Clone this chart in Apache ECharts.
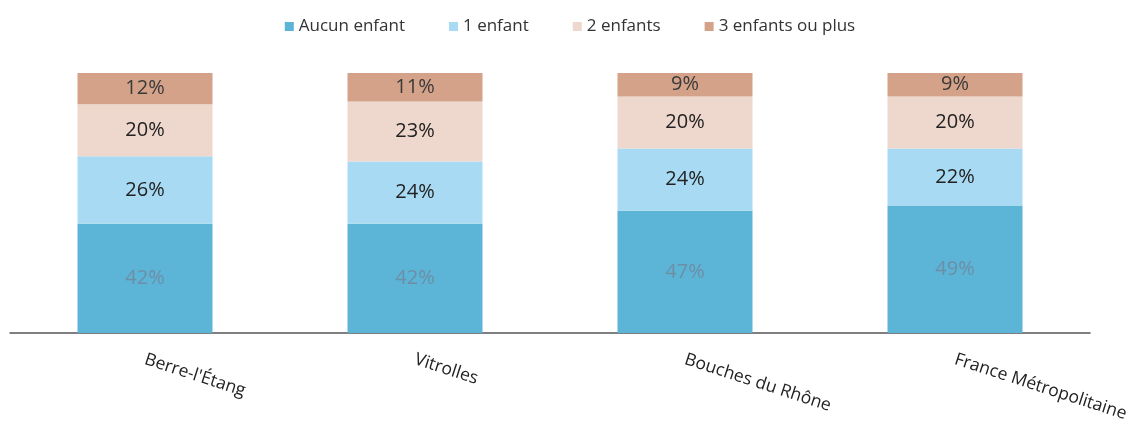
<!DOCTYPE html>
<html>
<head>
<meta charset="utf-8">
<script src="https://cdn.jsdelivr.net/npm/echarts@6/dist/echarts.min.js"></script>
<style>
  html, body { margin: 0; padding: 0; background: #fff; }
  #main { width: 1140px; height: 425px; }
</style>
</head>
<body>
<div id="main"></div>
<script>
// territoires
var categories = ["Berre-l'Étang", "Vitrolles", "Bouches du Rhône", "France Métropolitaine"];
// part des familles selon le nombre d'enfants (%)
var aucunEnfant = [42, 42, 47, 49];
var unEnfant = [26, 24, 24, 22];
var deuxEnfants = [20, 23, 20, 20];
var troisPlus = [12, 11, 9, 9];

var seriesNames = ["Aucun enfant", "1 enfant", "2 enfants", "3 enfants ou plus"];
var colors = ["#5cb4d7", "#a8dbf3", "#eed7cc", "#d4a289"];
var labelColors = ["#6d8fa6", "#222", "#222", "#3a3a3a"];

var chart = echarts.init(document.getElementById("main"));

function makeSeries(i, data) {
  return {
    name: seriesNames[i],
    type: "bar",
    stack: "total",
    barWidth: "50%",
    data: data,
    itemStyle: { color: colors[i] },
    label: {
      show: true,
      position: "inside",
      formatter: "{c}%",
      color: labelColors[i],
      fontSize: 20,
      fontFamily: "Open Sans"
    }
  };
}

var option = {
  animation: false,
  textStyle: { fontFamily: "Open Sans" },
  legend: {
    top: 13,
    left: "center",
    itemWidth: 9,
    itemHeight: 9,
    itemGap: 44,
    icon: "rect",
    textStyle: { color: "#333", fontSize: 17, fontFamily: "Open Sans" },
    data: seriesNames
  },
  grid: {
    top: 73,
    left: 10,
    right: 50,
    bottom: 92
  },
  xAxis: {
    type: "category",
    data: categories,
    axisLine: { lineStyle: { color: "#555", width: 1.5 } },
    axisTick: { show: false },
    axisLabel: {
      rotate: -18,
      interval: 0,
      margin: 26,
      color: "#222",
      fontSize: 17.5,
      fontFamily: "Open Sans"
    }
  },
  yAxis: {
    type: "value",
    min: 0,
    max: 100,
    show: false
  },
  series: [
    makeSeries(0, aucunEnfant),
    makeSeries(1, unEnfant),
    makeSeries(2, deuxEnfants),
    makeSeries(3, troisPlus)
  ]
};

chart.setOption(option);
window.addEventListener("resize", function () {
  chart.resize();
});
</script>
</body>
</html>
